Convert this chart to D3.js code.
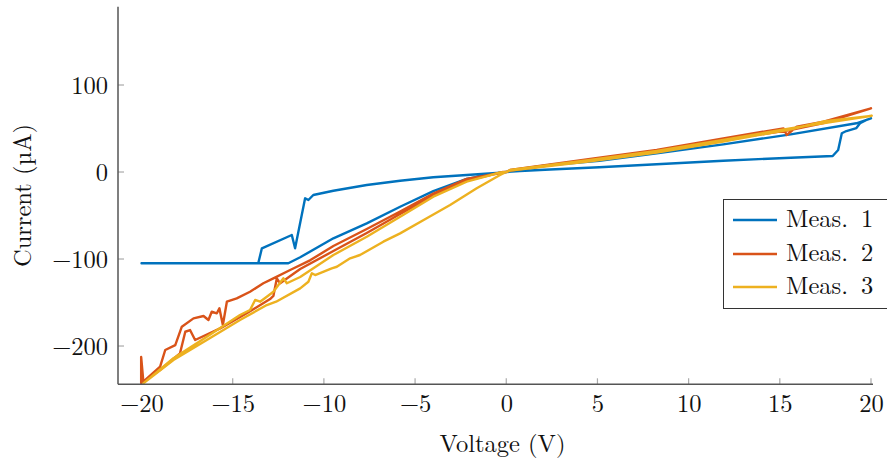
<!DOCTYPE html>
<html><head><meta charset="utf-8">
<script src="https://cdn.jsdelivr.net/npm/d3@7"></script>
</head><body style="margin:0;background:#fff">
<svg id="c" width="887" height="464" style="display:block"></svg>
<script>
const xTicks=[-20,-15,-10,-5,0,5,10,15,20];
const yTicks=[-200,-100,0,100];
const seriesNames=["Meas. 1","Meas. 2","Meas. 3"];
const seriesColors=["#0072BD","#D95319","#EDB120"];
// Meas. 1 (V, µA)
const meas1V=[0,0.21,2.4,5.1,8.25,11.9,15.6,19.2,20.0,19.75,19.4,19.2,18.65,18.4,18.2,17.9,15.6,11.9,8.25,5.1,2.4,0.75,0,-0.34,-2.17,-4.0,-5.82,-7.65,-9.48,-10.58,-10.85,-11.03,-11.58,-11.76,-13.4,-13.6,-20.0,-11.95,-11.3,-9.48,-7.65,-5.82,-4.0,-2.17,-0.34,0];
const meas1I=[0,1.7,8.0,12.8,21.5,31.8,43.3,56.0,61.7,59.8,56.0,50.5,47.1,44.5,25.3,18.4,16.4,13.0,8.9,5.4,2.9,1.1,0,-0.8,-3.4,-6.1,-10.0,-14.9,-21.5,-26.4,-32.2,-30.2,-87.7,-72.4,-87.7,-104.9,-104.9,-104.9,-98.0,-76.2,-59.0,-39.9,-22.0,-8.0,-0.6,0];
// Meas. 2
const meas2V=[0,0.21,4.6,8.25,11.9,15.2,15.38,15.93,17.4,20.0,17.4,15.56,11.9,8.25,4.6,0.21,0,-0.18,-2.17,-4.0,-5.82,-7.65,-9.48,-11.3,-12.4,-12.58,-12.77,-12.95,-14.23,-15.69,-17.06,-17.34,-17.6,-17.89,-18.99,-20.02,-20.02,-19.9,-18.98,-18.7,-18.15,-17.79,-17.15,-16.6,-16.33,-16.15,-15.87,-15.73,-15.54,-15.32,-14.78,-14.05,-13.32,-12.77,-11.85,-10.76,-9.48,-7.65,-5.82,-4.0,-2.17,0];
const meas2I=[0,2.3,14.9,25.3,38.7,50.2,42.5,52.1,57.8,73.2,56.3,48.3,36.8,24.1,13.8,1.7,0,0,-9.8,-27.6,-48.3,-70.1,-90.8,-111.5,-127.9,-122.2,-142.5,-146,-162.4,-179.7,-193.1,-181.6,-183.6,-208.4,-227.6,-242.5,-212.6,-241.0,-223.8,-204.6,-198.9,-177.8,-168.2,-165.5,-170.1,-160.6,-162.4,-156.7,-175.9,-149.1,-145.2,-137.6,-127.9,-122.2,-112.6,-101.5,-85.1,-65.5,-45.4,-24.7,-8.0,0];
// Meas. 3
const meas3V=[0,0.21,4.6,8.25,11.9,15.56,20.04,20.0,17.37,15.56,11.9,8.25,4.6,0.21,0,-0.34,-1.62,-3.08,-4.36,-5.82,-6.74,-8.02,-8.56,-9.29,-9.57,-10.48,-10.66,-10.85,-11.3,-12.62,-13.13,-14.6,-16.42,-18.25,-19.9,-18.25,-16.42,-14.6,-14.05,-13.77,-13.5,-13.13,-12.77,-12.22,-12.03,-11.3,-9.48,-7.65,-5.82,-4.0,-2.17,-0.34,0];
const meas3I=[0,2.3,13.8,24.1,36.8,50.2,64.7,64.4,58.0,48.9,35.1,22.4,12.4,1.7,0,-3.4,-18.7,-37.9,-53.2,-70.5,-80.1,-95.4,-99.2,-108.9,-110.7,-118.4,-116.4,-126.1,-133.7,-149.1,-152.9,-170.1,-193.1,-216.1,-242.9,-214.1,-189.3,-164.4,-158.6,-147.1,-149.1,-143.3,-137.6,-122.2,-127.9,-120.7,-95.4,-74.4,-51.4,-28.4,-11.1,-0.6,0];

const series=[[meas1V,meas1I],[meas2V,meas2I],[meas3V,meas3I]].map(([v,i],k)=>({name:seriesNames[k],color:seriesColors[k],pts:v.map((x,j)=>[x,i[j]])}));

const FF='"Latin Modern Roman"';
const FS="24.5px";
const LW=2.4;
const svg=d3.select("#c");
const L=118,R=873,T=6.7,B=384.3;
const x=d3.scaleLinear().domain([-21.29,20.11]).range([L,R]);
const y=d3.scaleLinear().domain([-244,190]).range([B,T]);

svg.append("defs").append("clipPath").attr("id","clip").append("rect").attr("x",L).attr("y",T).attr("width",R-L+20).attr("height",B-T);

const fmt=d=>d<0?"\u2212"+Math.abs(d):String(d);
// x ticks
const gx=svg.append("g").attr("transform",`translate(0,${B})`).call(d3.axisBottom(x).tickValues(xTicks).tickSize(0).tickFormat(fmt));
gx.select(".domain").remove();
gx.selectAll("text").attr("dy",null).attr("y",28).attr("fill","#111").style("font-family",FF).style("font-size",FS);
svg.append("g").selectAll("line").data(xTicks).join("line").attr("x1",d=>x(d)).attr("x2",d=>x(d)).attr("y1",B).attr("y2",B-6).attr("stroke","#aaa").attr("stroke-width",1.2);
// y ticks
const gy=svg.append("g").attr("transform",`translate(${L},0)`).call(d3.axisLeft(y).tickValues(yTicks).tickSize(0).tickFormat(fmt));
gy.select(".domain").remove();
gy.selectAll("text").attr("x",-10).attr("dy","0.35em").attr("fill","#111").style("font-family",FF).style("font-size",FS);
svg.append("g").selectAll("line").data(yTicks).join("line").attr("y1",d=>y(d)).attr("y2",d=>y(d)).attr("x1",L).attr("x2",L+6).attr("stroke","#aaa").attr("stroke-width",1.2);

// lines
const line=d3.line().x(d=>x(d[0])).y(d=>y(d[1]));
const gl=svg.append("g").attr("clip-path","url(#clip)");
series.forEach(s=>gl.append("path").attr("d",line(s.pts)).attr("fill","none").attr("stroke",s.color).attr("stroke-width",LW).attr("stroke-linejoin","round"));

// axes lines
svg.append("line").attr("x1",L).attr("x2",L).attr("y1",T).attr("y2",B).attr("stroke","#555").attr("stroke-width",1.5);
svg.append("line").attr("x1",L).attr("x2",R).attr("y1",B).attr("y2",B).attr("stroke","#555").attr("stroke-width",1.5);

// labels
svg.append("text").attr("x",(L+R)/2+7).attr("y",452).attr("text-anchor","middle").attr("fill","#111").style("font-family",FF).style("font-size",FS).text("Voltage (V)");
svg.append("text").attr("transform",`translate(31,${(T+B)/2}) rotate(-90)`).attr("text-anchor","middle").attr("fill","#111").style("font-family",FF).style("font-size",FS).text("Current (\u00b5A)");

// legend
const lg=svg.append("g");
lg.append("rect").attr("x",723.5).attr("y",199.5).attr("width",180).attr("height",109).attr("fill","#fff").attr("stroke","#333").attr("stroke-width",1);
const ly=[220,254,287];
series.forEach((s,k)=>{
  lg.append("line").attr("x1",733).attr("x2",777).attr("y1",ly[k]).attr("y2",ly[k]).attr("stroke",s.color).attr("stroke-width",LW);
  lg.append("text").attr("x",786).attr("y",ly[k]+7).attr("fill","#111").style("font-family",FF).style("font-size",FS).style("white-space","pre").text(s.name.replace(" "," \u2009"));
});
</script>
</body></html>
